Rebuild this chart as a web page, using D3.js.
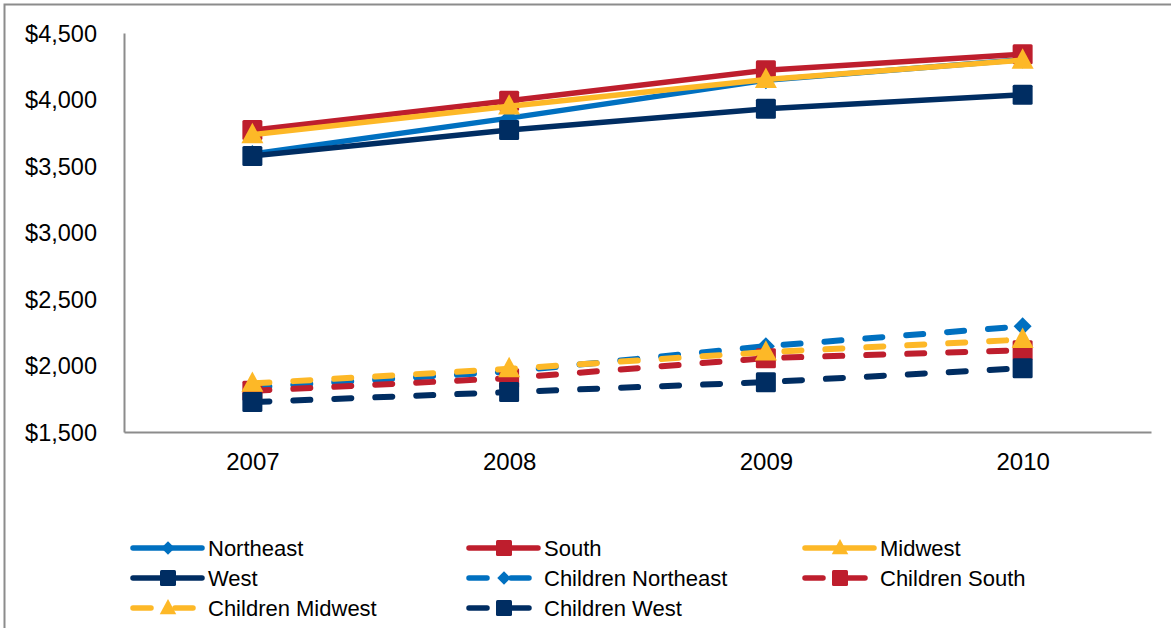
<!DOCTYPE html>
<html>
<head>
<meta charset="utf-8">
<script src="https://cdn.jsdelivr.net/npm/d3@7"></script>
<style>
    body { margin: 0; background: #fff; }
    text { font-family: "Liberation Sans", Arial, sans-serif; fill: #000; }
</style>
</head>
<body>
<script>
// Data: yearly cost per region, adults and children
var years = ["2007", "2008", "2009", "2010"];
var yTicks = [1500, 2000, 2500, 3000, 3500, 4000, 4500];

var northeast = [3590, 3860, 4145, 4300];
var south = [3770, 3990, 4220, 4340];
var midwest = [3735, 3950, 4150, 4295];
var west = [3575, 3770, 3930, 4035];
var childrenNortheast = [1835, 1955, 2145, 2295];
var childrenSouth = [1810, 1905, 2055, 2115];
var childrenMidwest = [1865, 1975, 2100, 2195];
var childrenWest = [1725, 1800, 1875, 1980];

var series = [
    {name: "Northeast", values: northeast, color: "#0070C0",
        shape: "diamond", dashed: false},
    {name: "South", values: south, color: "#BE1E2D",
        shape: "square", dashed: false},
    {name: "Midwest", values: midwest, color: "#FDB827",
        shape: "triangle", dashed: false},
    {name: "West", values: west, color: "#002D62",
        shape: "square", dashed: false},
    {name: "Children Northeast", values: childrenNortheast,
        color: "#0070C0", shape: "diamond", dashed: true},
    {name: "Children South", values: childrenSouth, color: "#BE1E2D",
        shape: "square", dashed: true},
    {name: "Children Midwest", values: childrenMidwest, color: "#FDB827",
        shape: "triangle", dashed: true},
    {name: "Children West", values: childrenWest, color: "#002D62",
        shape: "square", dashed: true}
];

var W = 1171, H = 628;
var margin = {top: 33, left: 124},
    width = 1151 - margin.left,
    height = 432 - margin.top;

var svg = d3.select("body").append("svg")
    .attr("width", W)
    .attr("height", H);

// outer chart frame (runs off the bottom and right of the picture)
svg.append("rect")
    .attr("x", 4.5).attr("y", 4.5)
    .attr("width", W + 10).attr("height", H + 10)
    .attr("fill", "none")
    .attr("stroke", "#8c8c8c")
    .attr("stroke-width", 2);

var g = svg.append("g")
    .attr("transform", "translate(" + margin.left + "," + margin.top + ")");

var xScale = d3.scalePoint().domain(years).range([0, width]).padding(0.5);
var yScale = d3.scaleLinear().domain([1500, 4500]).range([height, 0]);

var fmt = d3.format(",");

var yAxis = d3.axisLeft(yScale)
    .tickValues(yTicks)
    .tickSize(0)
    .tickPadding(27)
    .tickFormat(function(d) { return "$" + fmt(d); });

var xAxis = d3.axisBottom(xScale).tickSize(0).tickPadding(21);

var gy = g.append("g").call(yAxis);
gy.select(".domain").attr("stroke", "#8c8c8c").attr("stroke-width", 2);
gy.selectAll("text")
    .attr("font-size", "23.5px")
    .attr("dy", "0.36em")
    .style("font-family", "'Liberation Sans', Arial, sans-serif");

var gx = g.append("g")
    .attr("transform", "translate(0," + height + ")")
    .call(xAxis);
gx.select(".domain").attr("stroke", "#8c8c8c").attr("stroke-width", 2);
gx.selectAll("text")
    .attr("font-size", "24px")
    .style("font-family", "'Liberation Sans', Arial, sans-serif");

// marker shapes
function marker(sel, shape, color, s) {
    if (shape === "square") {
        sel.append("rect")
            .attr("x", -s / 2).attr("y", -s / 2)
            .attr("width", s).attr("height", s)
            .attr("rx", 1.5)
            .attr("fill", color);
    } else if (shape === "triangle") {
        sel.append("path")
            .attr("d", "M0," + (-s * 0.6) + "L" + (s * 0.55) + "," + (s * 0.42) +
                "L" + (-s * 0.55) + "," + (s * 0.42) + "Z")
            .attr("fill", color);
    } else {
        var r = s * 0.45;
        sel.append("path")
            .attr("d", "M0," + (-r) + "L" + r + ",0L0," + r + "L" + (-r) + ",0Z")
            .attr("fill", color);
    }
}

var line = d3.line()
    .x(function(d, i) { return xScale(years[i]); })
    .y(function(d) { return yScale(d); });

series.forEach(function(s) {
    var sg = g.append("g");
    sg.append("path")
        .datum(s.values)
        .attr("d", line)
        .attr("fill", "none")
        .attr("stroke", s.color)
        .attr("stroke-width", s.dashed ? 6 : 5.5)
        .attr("stroke-linecap", s.dashed ? "round" : "butt")
        .attr("stroke-linejoin", "round")
        .attr("stroke-dasharray", s.dashed ? "17,24" : null);

    s.values.forEach(function(v, i) {
        var m = sg.append("g")
            .attr("transform", "translate(" + xScale(years[i]) + "," +
                yScale(v) + ")");
        marker(m, s.shape, s.color, 20);
    });
});

// legend: three columns, three rows
var legX = [131, 467, 803], legY = [548, 578, 608];
series.forEach(function(s, i) {
    var lg = svg.append("g")
        .attr("transform", "translate(" + legX[i % 3] + "," +
            legY[Math.floor(i / 3)] + ")");
    lg.append("line")
        .attr("x1", 2).attr("x2", 71)
        .attr("stroke", s.color)
        .attr("stroke-width", 5.5)
        .attr("stroke-linecap", "round")
        .attr("stroke-dasharray", s.dashed ? "18,24" : null);
    var m = lg.append("g").attr("transform", "translate(37,0)");
    marker(m, s.shape, s.color, s.shape === "square" ? 16 : 15);
    lg.append("text")
        .attr("x", 77)
        .attr("dy", "0.36em")
        .attr("font-size", "22px")
        .text(s.name);
});
</script>
</body>
</html>
